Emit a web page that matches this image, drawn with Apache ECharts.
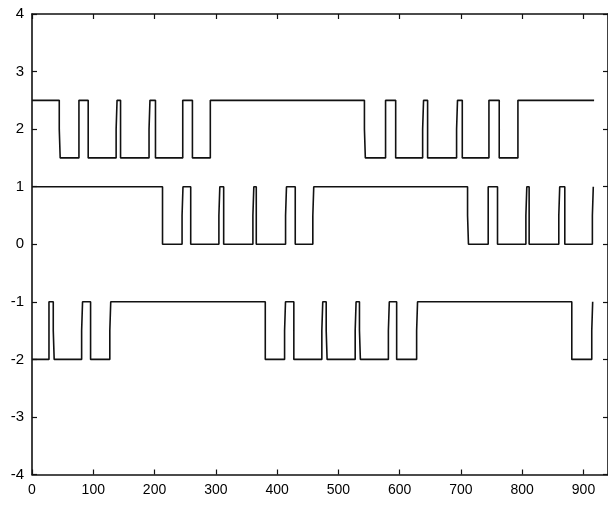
<!DOCTYPE html>
<html>
<head>
<meta charset="utf-8">
<script src="https://cdn.jsdelivr.net/npm/echarts@6/dist/echarts.min.js"></script>
<style>
html,body{margin:0;padding:0;background:#fff;}
#c{width:608px;height:505px;}
</style>
</head>
<body>
<div id="c"></div>
<script>
// ---- data ----
const X_MIN = 0, X_MAX = 940, X_STEP = 100;
const Y_MIN = -4, Y_MAX = 4, Y_STEP = 1;

// top signal: levels [start, other], switching times, notch flags (1 = transition with a small jog half-way)
const topLevels = [2.5, 1.5];
const topEdges  = [44.5, 76.6, 91.7, 137.3, 144.5, 191, 201.5, 246, 261.8, 291,
                   542.5, 577, 593.5, 637.5, 645.6, 692.9, 702.2, 745.7, 762.5, 793];
const topNotch  = [1, 0, 0, 1, 0, 1, 0, 0, 0, 0,
                   1, 0, 0, 1, 0, 1, 0, 0, 0, 0];
const topEnd    = 917.3;

// middle signal
const midLevels = [1, 0];
const midEdges  = [213, 244.9, 259, 305, 312.8, 360.5, 366, 413.8, 429.6, 458.3,
                   710.8, 744.5, 759.7, 806, 811.3, 859.7, 869.5, 914.5];
const midNotch  = [0, 1, 0, 1, 0, 1, 0, 1, 0, 1,
                   1, 0, 0, 1, 0, 1, 0, 1];
const midEnd    = null;

// bottom signal
const botLevels = [-2, -1];
const botEdges  = [27.7, 34.7, 81, 95.6, 127, 380.7, 412.2, 427.3, 473, 480.1,
                   527.4, 534.4, 581.6, 595.1, 627.7, 880.9, 913.5];
const botNotch  = [0, 1, 1, 0, 1, 0, 1, 0, 1, 1,
                   1, 1, 1, 0, 1, 0, 1];
const botEnd    = null;

const NOTCH_W = 1.5;

function build(levels, edges, notch, endX) {
  const pts = [[X_MIN, levels[0]]];
  let cur = 0;
  edges.forEach((t, i) => {
    const from = levels[cur], to = levels[1 - cur];
    if (notch[i]) {
      const mid = (from + to) / 2;
      pts.push([t, from], [t, mid], [t + NOTCH_W, mid], [t + NOTCH_W, to]);
    } else {
      pts.push([t, from], [t, to]);
    }
    cur = 1 - cur;
  });
  if (endX != null) pts.push([endX, levels[cur]]);
  return pts;
}

const INK = '#111';
const labelFont = {color: '#000', fontFamily: 'Liberation Sans, Arial, sans-serif', fontSize: 14};

const chart = echarts.init(document.getElementById('c'), null, {renderer: 'canvas'});
const lineStyle = {color: INK, width: 1.6};
const baseX = {type: 'value', min: X_MIN, max: X_MAX, interval: X_STEP,
  splitLine: {show: false},
  axisLine: {show: true, onZero: false, lineStyle: {color: INK, width: 1.6}},
  axisTick: {show: true, inside: true, length: 5, lineStyle: {color: INK, width: 1.2}}};
const baseY = {type: 'value', min: Y_MIN, max: Y_MAX, interval: Y_STEP,
  splitLine: {show: false},
  axisLine: {show: true, onZero: false, lineStyle: {color: INK, width: 1.6}},
  axisTick: {show: true, inside: true, length: 5, lineStyle: {color: INK, width: 1.2}}};

chart.setOption({
  animation: false,
  backgroundColor: '#fff',
  grid: {left: 32, right: -1, top: 14, bottom: 30.5, containLabel: false},
  xAxis: [
    Object.assign({}, baseX, {position: 'bottom',
      axisLabel: Object.assign({margin: 9, showMaxLabel: false}, labelFont)}),
    Object.assign({}, baseX, {position: 'top', axisLabel: {show: false}})
  ],
  yAxis: [
    Object.assign({}, baseY, {position: 'left',
      axisLabel: Object.assign({margin: 8}, labelFont, {fontSize: 15})}),
    Object.assign({}, baseY, {position: 'right', axisLabel: {show: false}})
  ],
  series: [
    {type: 'line', data: build(topLevels, topEdges, topNotch, topEnd), showSymbol: false, lineStyle: lineStyle, silent: true},
    {type: 'line', data: build(midLevels, midEdges, midNotch, midEnd), showSymbol: false, lineStyle: lineStyle, silent: true},
    {type: 'line', data: build(botLevels, botEdges, botNotch, botEnd), showSymbol: false, lineStyle: lineStyle, silent: true}
  ]
});
</script>
</body>
</html>
